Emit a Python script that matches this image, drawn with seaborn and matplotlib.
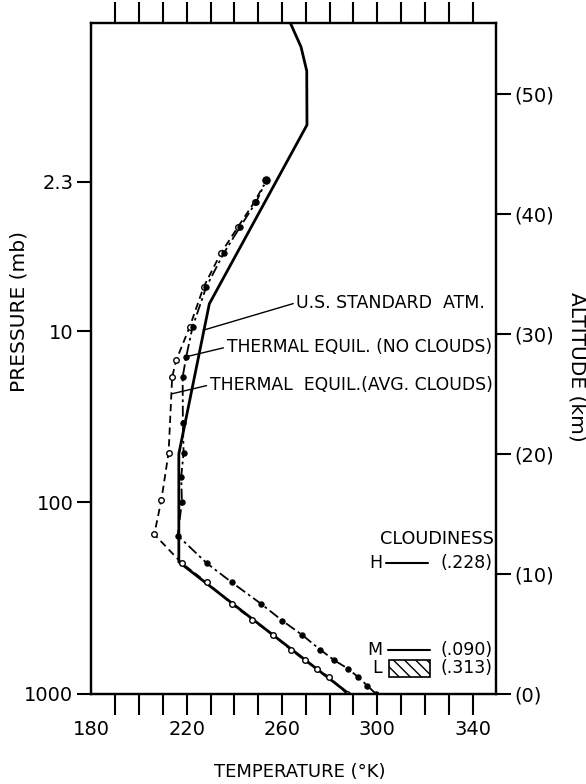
import matplotlib
matplotlib.use("Agg")
import matplotlib.pyplot as plt
import seaborn as sns
from matplotlib.patches import Rectangle

# U.S. standard atmosphere (solid)
std_temp = [288.2, 216.7, 216.7, 229.5, 270.5, 270.4, 268.0, 263.5]
std_alt = [0.0, 11.0, 20.0, 32.5, 47.4, 51.9, 53.9, 55.9]

# thermal equilibrium, average clouds (dashed, open circles)
avg_temp = [287.5, 279.8, 274.5, 269.6, 263.7, 256.3, 247.5, 238.9, 228.4, 217.9,
            206.4, 209.4, 212.4, 213.9, 215.6, 221.3, 227.1, 234.3, 241.5, 248.5, 253.5]
avg_alt = [0.0, 1.4, 2.1, 2.8, 3.7, 4.9, 6.2, 7.5, 9.3, 10.9,
           13.3, 16.2, 20.1, 26.4, 27.8, 30.6, 33.9, 36.7, 38.9, 41.0, 42.8]

# thermal equilibrium, no clouds (dash-dot, filled circles)
clr_temp = [299.5, 295.8, 292.0, 287.8, 282.0, 276.0, 268.6, 260.2, 251.3, 238.9, 228.4,
            216.2, 218.0, 217.7, 218.7, 218.4, 218.3, 219.8, 222.5, 228.2, 235.5, 242.4, 249.2, 253.5]
clr_alt = [0.0, 0.7, 1.4, 2.1, 2.8, 3.7, 4.9, 6.1, 7.5, 9.3, 10.9,
           13.2, 16.0, 18.1, 20.1, 22.6, 26.4, 28.1, 30.6, 33.9, 36.7, 38.9, 41.0, 42.8]

# axis labels
pres_labels = ["1000", "100", "10", "2.3"]
pres_alt = [0.0, 15.96, 30.2, 42.66]
alt_ticks = [0, 10, 20, 30, 40, 50]
temp_ticks = [180, 220, 260, 300, 340]

# cloudiness legend
cloud_names = ["H", "M", "L"]
cloud_amount = ["(.228)", "(.090)", "(.313)"]
cloud_alt = [10.9, 3.67, 2.17]

sns.set_theme(style="ticks")
plt.rcParams["font.family"] = ["DejaVu Sans"]
plt.rcParams["axes.linewidth"] = 1.6
for key in ("text.color", "axes.labelcolor", "xtick.color", "ytick.color", "axes.edgecolor"):
    plt.rcParams[key] = "black"

fig = plt.figure(figsize=(5.86, 7.84), dpi=100)
ax = fig.add_axes([0.156, 0.1148, 0.691, 0.856])

sns.lineplot(x=std_temp, y=std_alt, sort=False, estimator=None, color="black", lw=2.0, ax=ax)
sns.lineplot(x=avg_temp, y=avg_alt, sort=False, estimator=None, color="black", lw=1.3,
             linestyle=(0, (4, 2.5)), marker="o", markersize=4, markerfacecolor="white",
             markeredgecolor="black", markeredgewidth=1.0, ax=ax)
sns.lineplot(x=clr_temp, y=clr_alt, sort=False, estimator=None, color="black", lw=1.3,
             linestyle=(0, (6, 2, 1.5, 2)), marker="o", markersize=3.8, markerfacecolor="black",
             markeredgecolor="black", markeredgewidth=0.8, ax=ax)
sns.scatterplot(x=[clr_temp[-1]], y=[clr_alt[-1]], s=45, color="black", ax=ax, zorder=5)

ax.set_xlim(180, 350)
ax.set_ylim(0, 55.9)
ax.set_xticks(temp_ticks)
ax.set_xticks(range(190, 350, 10), minor=True)
ax.tick_params(axis="x", which="both", direction="out", top=True, bottom=True,
               length=15, width=1.5, labelsize=14, pad=4, colors="black")
first = ax.xaxis.get_major_ticks()[0]
first.tick1line.set_visible(False)
first.tick2line.set_visible(False)

ax.set_yticks(pres_alt, labels=pres_labels)
ax.tick_params(axis="y", direction="out", length=10, width=1.5, labelsize=14, pad=3, colors="black")

ax2 = ax.twinx()
ax2.set_ylim(ax.get_ylim())
ax2.set_yticks(alt_ticks, labels=[f"({a})" for a in alt_ticks])
ax2.tick_params(axis="y", direction="out", length=11, width=1.5, labelsize=14, pad=2, colors="black")
for a in (ax, ax2):
    for s in a.spines.values():
        s.set_color("black")
        s.set_linewidth(1.6)

# curve labels with leader lines
lead = dict(arrowstyle="-", lw=1.0, color="black", shrinkA=0, shrinkB=0, relpos=(0, 0.5))
ax.annotate("U.S. STANDARD  ATM.", xy=(226.9, 30.3), xytext=(266.1, 32.6),
            ha="left", va="center", fontsize=12.5, arrowprops=lead)
ax.annotate("THERMAL EQUIL. (NO CLOUDS)", xy=(220.0, 28.1), xytext=(236.8, 28.9),
            ha="left", va="center", fontsize=12.3, arrowprops=lead)
ax.annotate("THERMAL  EQUIL.(AVG. CLOUDS)", xy=(213.7, 25.0), xytext=(229.7, 25.75),
            ha="left", va="center", fontsize=12.4, arrowprops=lead)

# cloudiness key
ax.text(349.0, 12.9, "CLOUDINESS", ha="right", va="center", fontsize=12.7)
for name, amt, z in zip(cloud_names, cloud_amount, cloud_alt):
    ax.text(302.0, z, name, ha="right", va="center", fontsize=12.5)
    ax.text(348.5, z, amt, ha="right", va="center", fontsize=12.5)
ax.plot([303.5, 321.5], [cloud_alt[0], cloud_alt[0]], color="black", lw=1.5)
ax.plot([304.5, 322.0], [cloud_alt[1], cloud_alt[1]], color="black", lw=1.5)
ax.add_patch(Rectangle((305.0, 1.45), 17.0, 1.4, fill=False, hatch="\\\\\\",
                       lw=1.2, edgecolor="black"))

fig.text(19 / 586, 1 - 312 / 784, "PRESSURE (mb)", rotation=90, ha="center", va="center", fontsize=14.5)
fig.text(577 / 586, 1 - 367 / 784, "ALTITUDE (km)", rotation=270, ha="center", va="center", fontsize=14.5)
fig.text(300 / 586, 1 - 772 / 784, "TEMPERATURE (°K)", ha="center", va="center", fontsize=13)

fig.savefig("out.png", dpi=100)
